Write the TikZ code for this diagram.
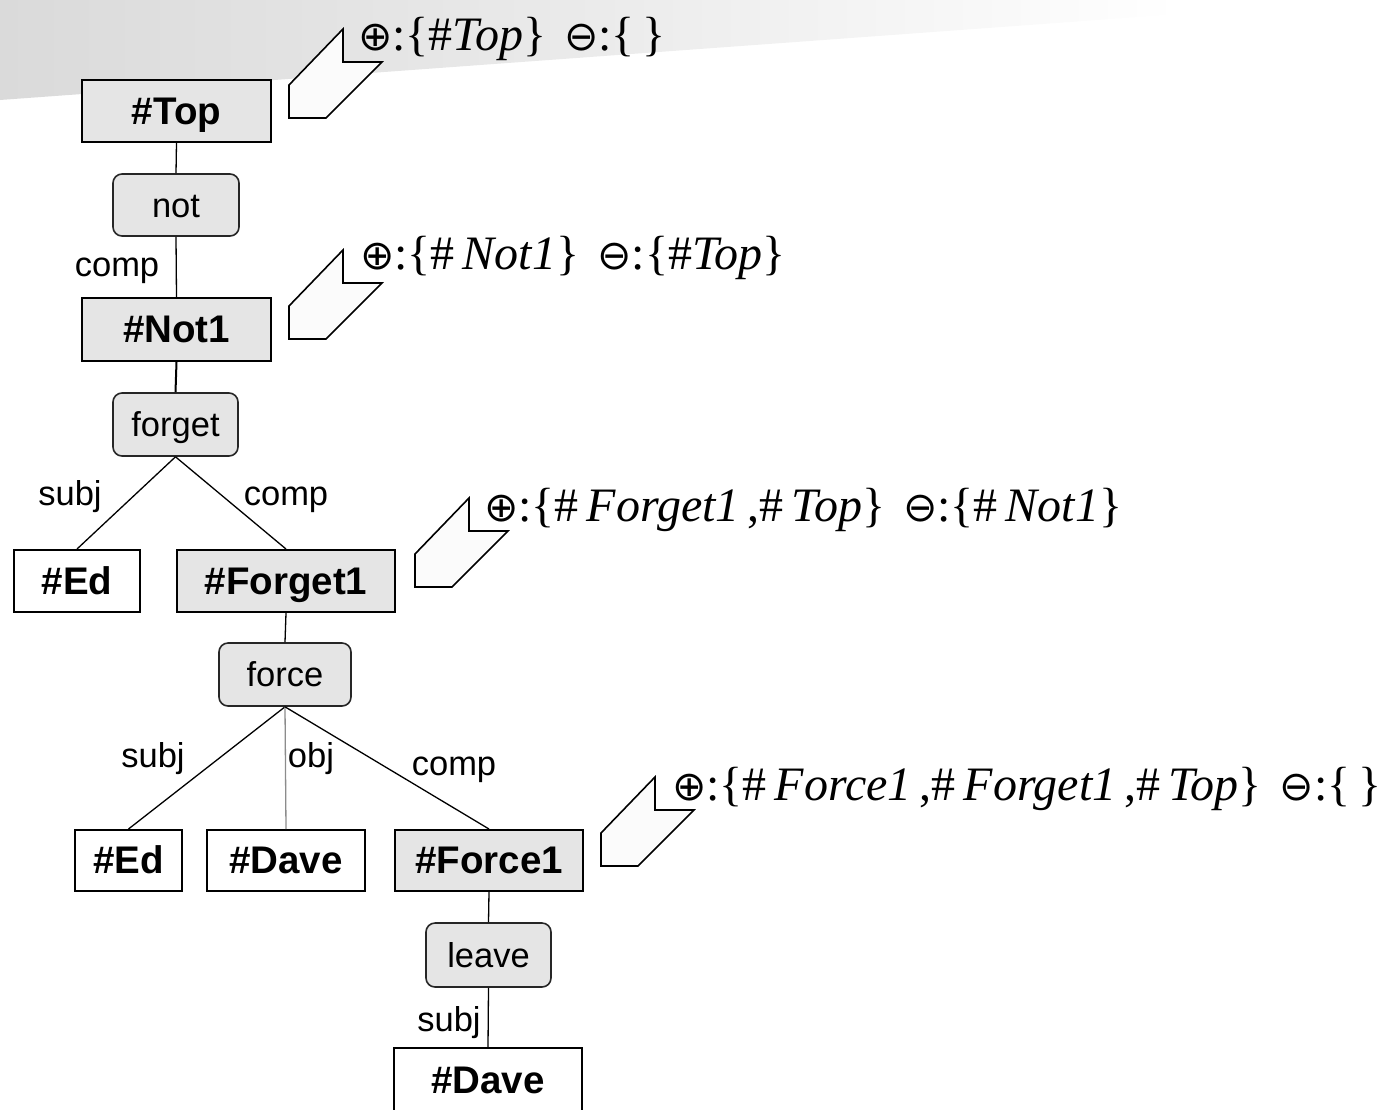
\documentclass[tikz,border=0pt]{standalone}
\usepackage{fontspec}
\setmainfont{Liberation Sans}
\newfontfamily\setfont{Liberation Serif}
\newfontfamily\opfont{DejaVu Sans}
\usetikzlibrary{shadings}
\definecolor{boxgray}{HTML}{E5E5E5}
\definecolor{bandgray}{HTML}{DADADA}
\definecolor{flagfill}{HTML}{FBFBFB}
\newcommand{\setexpr}[1]{{\setfont\fontsize{48}{52}\selectfont #1}}
\newcommand{\opl}{{\opfont\fontsize{41}{41}\selectfont ⊕}}
\newcommand{\omn}{{\opfont\fontsize{41}{41}\selectfont ⊖}}
\newcommand{\ital}[1]{\textit{#1}}
\begin{document}
\begin{tikzpicture}[x=1pt,y=-1pt,
  entity/.style={draw=black, line width=2pt, fill=boxgray, inner sep=0pt,
    text height=30pt, text depth=4pt,
    font=\bfseries\fontsize{38.5}{40}\selectfont},
  entityw/.style={entity, fill=white},
  pred/.style={draw=black!85, line width=1.6pt, fill=boxgray, rounded corners=9pt,
    inner sep=0pt, text height=28pt, text depth=4pt,
    font=\fontsize{34.5}{36}\selectfont},
  rel/.style={inner sep=0pt, anchor=base, font=\fontsize{34.5}{36}\selectfont},
  link/.style={draw=black, line width=1.3pt},
  linklight/.style={draw=black!45, line width=1.3pt},
  flag/.style={draw=black, line width=1.6pt, fill=flagfill, line join=miter},
  setlbl/.style={inner sep=0pt, anchor=base west}
]
\useasboundingbox (0,0) rectangle (1383,1109);
\clip (0,0) rectangle (1383,1109);

% light band across the top
\shade[left color=bandgray, right color=white, middle color=bandgray!55]
  (0,0) -- (1180,0) -- (1180,14) -- (0,100) -- cycle;

% clause nodes and predicates
\node[entity, minimum width=189pt, minimum height=62pt] (top) at (176.5,111) {\#Top};
\node[pred, minimum width=126pt, minimum height=62pt] (not) at (176,205) {not};
\node[entity, minimum width=189pt, minimum height=63pt] (not1) at (176.5,329.5) {\#Not1};
\node[pred, minimum width=125pt, minimum height=63pt] (forget) at (175.5,424.5) {forget};
\node[entityw, minimum width=126pt, minimum height=62pt] (ed1) at (77,581) {\#Ed};
\node[entity, minimum width=218pt, minimum height=62pt] (forget1) at (286,581) {\#Forget1};
\node[pred, minimum width=132pt, minimum height=63pt] (force) at (285,674.5) {force};
\node[entityw, minimum width=107pt, minimum height=61pt] (ed2) at (128.5,860.5) {\#Ed};
\node[entityw, minimum width=158pt, minimum height=61pt] (dave1) at (286,860.5) {\#Dave};
\node[entity, minimum width=188pt, minimum height=61pt] (force1) at (489,860.5) {\#Force1};
\node[pred, minimum width=125pt, minimum height=64pt] (leave) at (488.5,955) {leave};
\node[entityw, minimum width=188pt, minimum height=74pt] (dave2) at (488,1085) {};
\node[font=\bfseries\fontsize{38.5}{40}\selectfont, inner sep=0pt, anchor=base] (dave2t) at (488,1093) {\#Dave};

% dependency links
\draw[link] (top.south) -- (not.north);
\draw[link] (not.south) -- (not1.north);
\draw[link, line width=2pt] (not1.south) -- (forget.north);
\draw[link] (forget.south) -- (ed1.north);
\draw[link] (forget.south) -- (forget1.north);
\draw[link] (forget1.south) -- (force.north);
\draw[link] (force.south) -- (ed2.north);
\draw[linklight] (force.south) -- (dave1.north);
\draw[link] (force.south) -- (force1.north);
\draw[link] (force1.south) -- (leave.north);
\draw[link] (leave.south) -- (dave2.north);

% relation labels
\node[rel] (r1) at (117,276) {comp};
\node[rel] (r2) at (70,505) {subj};
\node[rel] (r3) at (286,505) {comp};
\node[rel] (r4) at (153,767) {subj};
\node[rel] (r5) at (311,767) {obj};
\node[rel] (r6) at (454,775) {comp};
\node[rel] (r7) at (449,1031) {subj};

% flags with the add/remove sets
\foreach \fx/\fy in {289/29, 289/250, 415/498, 601/777}{
  \draw[flag, shift={(\fx,\fy)}] (54,0) -- (54,33) -- (93,33) -- (37,89) -- (0,89) -- (0,56) -- cycle;
}
\node[setlbl] (s1) at (358,50) {\setexpr{\opl:\{\#\ital{Top}\}\hspace{18pt}\omn:\{\,\}}};
\node[setlbl] (s2) at (360,269) {\setexpr{\opl:\{\#\,\ital{Not1}\}\hspace{18pt}\omn:\{\#\ital{Top}\}}};
\node[setlbl] (s3) at (484,521) {\setexpr{\opl:\{\#\,\ital{Forget1}\,,\#\,\ital{Top}\}\hspace{18pt}\omn:\{\#\,\ital{Not1}\}}};
\node[setlbl] (s4) at (672,800) {\setexpr{\opl:\{\#\,\ital{Force1}\,,\#\,\ital{Forget1}\,,\#\,\ital{Top}\}\hspace{18pt}\omn:\{\,\}}};
\end{tikzpicture}
\end{document}
